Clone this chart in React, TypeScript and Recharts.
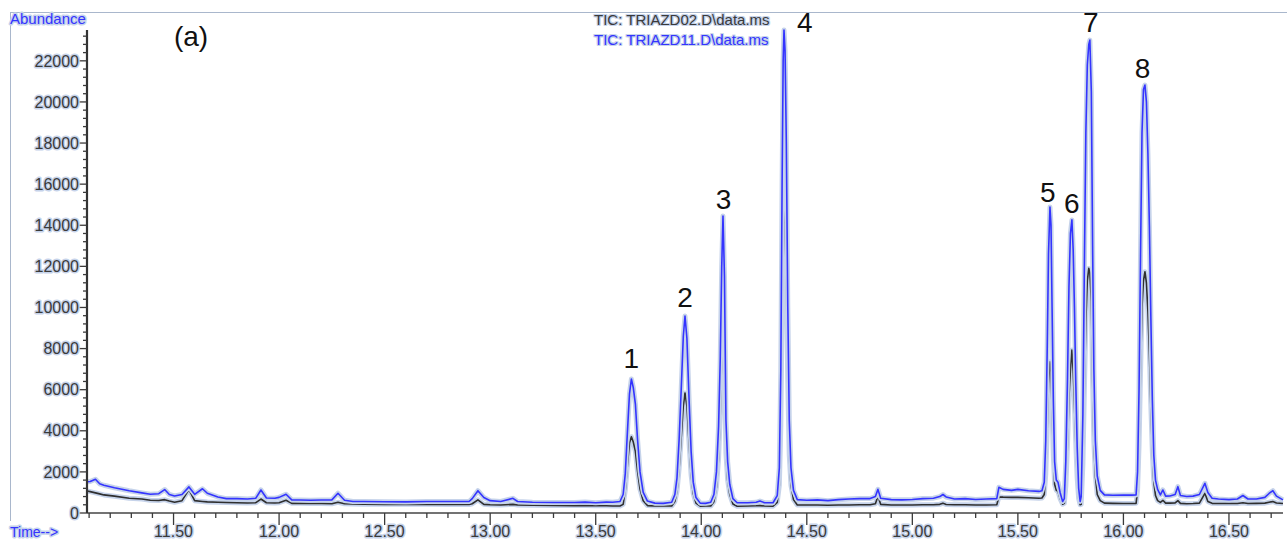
import React from 'react';
import { ComposedChart, Line, Scatter, XAxis, YAxis, Legend } from 'recharts';

// Retention time (min)
const TIME = [
  11.090, 11.105, 11.130, 11.150, 11.170, 11.220, 11.290, 11.350, 11.390, 11.430, 11.458, 11.480, 11.505, 11.540, 11.573, 11.600, 11.637, 11.660, 11.710, 11.750, 11.800, 11.850, 11.890, 11.914, 11.940, 11.980, 12.000, 12.033, 12.060, 12.100, 12.150, 12.200, 12.250, 12.279, 12.310, 12.350, 12.400, 12.500, 12.600, 12.700, 12.800, 12.900, 12.915, 12.942, 12.970, 13.000, 13.050, 13.108, 13.130, 13.200, 13.300, 13.400, 13.450, 13.500, 13.550, 13.580, 13.615,
  13.630, 13.640, 13.650, 13.660, 13.669, 13.678, 13.688, 13.698, 13.710, 13.725, 13.745, 13.780, 13.820, 13.860,
  13.875, 13.885, 13.895, 13.905, 13.915, 13.923, 13.932, 13.942, 13.952, 13.962, 13.975, 13.995, 14.020, 14.045,
  14.060, 14.072, 14.082, 14.090, 14.097, 14.103, 14.110, 14.117, 14.125, 14.135, 14.150, 14.170, 14.220, 14.260, 14.278, 14.300, 14.340,
  14.360, 14.370, 14.377, 14.383, 14.388, 14.392, 14.397, 14.403, 14.410, 14.417, 14.425, 14.437, 14.455,
  14.500, 14.550, 14.600, 14.650, 14.700, 14.750, 14.800, 14.825, 14.837, 14.850, 14.900, 14.950, 15.000, 15.050, 15.100, 15.130, 15.145, 15.160, 15.200, 15.250, 15.300, 15.350, 15.400, 15.410, 15.430, 15.470, 15.500, 15.550, 15.600, 15.614,
  15.625, 15.632, 15.639, 15.645, 15.652, 15.657, 15.662, 15.668, 15.674, 15.682, 15.690, 15.700, 15.712, 15.720, 15.727, 15.735, 15.742, 15.749, 15.756, 15.762, 15.768, 15.774, 15.781, 15.788, 15.795,
  15.800, 15.808, 15.815, 15.822, 15.829, 15.836, 15.841, 15.848, 15.854, 15.860, 15.867, 15.876, 15.890, 15.910, 15.950, 16.000, 16.040, 16.060,
  16.067, 16.074, 16.081, 16.088, 16.095, 16.102, 16.109, 16.116, 16.123, 16.130, 16.137, 16.144, 16.152, 16.162, 16.175, 16.187, 16.200, 16.220, 16.245, 16.258, 16.270, 16.300, 16.330, 16.360, 16.386, 16.400, 16.420, 16.450, 16.500, 16.540, 16.566, 16.590, 16.630, 16.670, 16.690, 16.708, 16.725, 16.756,
];

// TIC: TRIAZD02.D\data.ms (black trace)
const TRIAZD02 = [
  1070, 1040, 980, 930, 880, 820, 720, 680, 620, 610, 650, 580, 520, 600, 1140, 600, 560, 540, 520, 510, 500, 490, 500, 680, 500, 490, 500, 620, 470, 470, 460, 460, 450, 520, 450, 440, 430, 420, 420, 420, 410, 410, 450, 640, 420, 400, 390, 420, 390, 380, 370, 360, 360, 350, 350, 340, 340,
  420, 1100, 2300, 3400, 3710, 3450, 3000, 2050, 1150, 600, 360, 340, 340, 340,
  560, 1050, 2150, 3650, 5200, 5840, 5200, 3450, 1850, 950, 480, 330, 340, 340,
  550, 1250, 2650, 4800, 7700, 9300, 7400, 2900, 1600, 900, 440, 330, 340, 350, 360, 340, 330,
  520, 1350, 4300, 10000, 13900, 14740, 14100, 11300, 6300, 2800, 1350, 650, 390,
  390, 390, 380, 390, 390, 400, 400, 450, 820, 420, 390, 390, 390, 400, 400, 420, 480, 410, 400, 400, 390, 390, 400, 780, 770, 760, 760, 740, 720, 730,
  900, 1900, 4100, 6300, 7360, 6900, 5000, 2800, 1400, 1100, 1050, 700, 430, 470, 1300, 3300, 5600, 7000, 7930, 6900, 5300, 3500, 1700, 700, 400,
  420, 2400, 6000, 9300, 11300, 11900, 11680, 10300, 6500, 3500, 1800, 900, 600, 480, 470, 460, 460, 470,
  1100, 3300, 6800, 10000, 11300, 11740, 11200, 9800, 7800, 5200, 3000, 1500, 850, 600, 520, 620, 480, 480, 490, 600, 470, 450, 460, 480, 960, 560, 470, 460, 460, 460, 500, 460, 470, 480, 520, 560, 490, 460,
];

// TIC: TRIAZD11.D\data.ms (blue trace)
const TRIAZD11 = [
  1520, 1530, 1640, 1420, 1350, 1230, 1080, 980, 910, 940, 1140, 900, 830, 900, 1270, 910, 1180, 960, 780, 700, 700, 680, 720, 1120, 730, 720, 760, 910, 640, 630, 620, 630, 640, 960, 620, 560, 560, 550, 540, 560, 560, 560, 700, 1085, 750, 600, 560, 715, 560, 520, 510, 510, 530, 500, 530, 520, 560,
  900, 1900, 3900, 5800, 6520, 6100, 5300, 3600, 2000, 1000, 580, 480, 470, 520,
  900, 1700, 3550, 6000, 8600, 9585, 8500, 5600, 3000, 1500, 750, 480, 470, 520,
  900, 2000, 4200, 7500, 12000, 14450, 11500, 4500, 2500, 1400, 700, 500, 500, 520, 580, 500, 500,
  850, 2200, 7000, 16000, 22000, 23500, 22500, 18000, 10000, 4500, 2200, 1100, 650,
  620, 640, 600, 650, 680, 700, 700, 800, 1150, 720, 650, 640, 660, 700, 720, 800, 900, 780, 680, 700, 660, 680, 700, 1250, 1150, 1100, 1150, 1080, 1050, 1080,
  1500, 3500, 8000, 12600, 14890, 14000, 10000, 5500, 2500, 1600, 1500, 1000, 560, 700, 2500, 6500, 11000, 13600, 14260, 12800, 10000, 6500, 3200, 1200, 560,
  800, 4800, 12000, 18500, 21800, 22800, 23010, 20500, 13000, 7000, 3500, 1800, 1100, 880, 860, 870, 870, 880,
  2000, 6000, 12500, 18500, 20600, 20820, 20000, 17500, 14000, 9500, 5500, 2800, 1600, 1150, 880, 1120, 820, 830, 900, 1280, 850, 800, 820, 900, 1445, 1000, 720, 680, 650, 680, 850, 680, 680, 760, 950, 1085, 820, 640,
];

const SERIES_NAMES = ['TIC: TRIAZD02.D\\data.ms', 'TIC: TRIAZD11.D\\data.ms'];

// Peak annotations
const PEAK_TEXT = ['(a)', '1', '2', '3', '4', '5', '6', '7', '8'];
const PEAK_T = [11.583, 13.669, 13.923, 14.106, 14.491, 15.642, 15.755, 15.845, 16.091];
const PEAK_V = [22700, 7055, 10023, 14791, 23418, 15146, 14596, 23418, 21150];

// Axis ticks
const X_MAJOR = [11.5, 12.0, 12.5, 13.0, 13.5, 14.0, 14.5, 15.0, 15.5, 16.0, 16.5];
const X_MINOR = [
  11.1, 11.2, 11.3, 11.4, 11.5, 11.6, 11.7, 11.8, 11.9, 12.0,
  12.1, 12.2, 12.3, 12.4, 12.5, 12.6, 12.7, 12.8, 12.9, 13.0,
  13.1, 13.2, 13.3, 13.4, 13.5, 13.6, 13.7, 13.8, 13.9, 14.0,
  14.1, 14.2, 14.3, 14.4, 14.5, 14.6, 14.7, 14.8, 14.9, 15.0,
  15.1, 15.2, 15.3, 15.4, 15.5, 15.6, 15.7, 15.8, 15.9, 16.0,
  16.1, 16.2, 16.3, 16.4, 16.5, 16.6, 16.7,
];
const Y_MAJOR = [0, 2000, 4000, 6000, 8000, 10000, 12000, 14000, 16000, 18000, 20000, 22000];
const Y_MINOR = [
  0, 400, 800, 1200, 1600, 2000, 2400, 2800, 3200, 3600, 4000, 4400, 4800, 5200, 5600,
  6000, 6400, 6800, 7200, 7600, 8000, 8400, 8800, 9200, 9600, 10000, 10400, 10800, 11200, 11600,
  12000, 12400, 12800, 13200, 13600, 14000, 14400, 14800, 15200, 15600, 16000, 16400, 16800, 17200, 17600,
  18000, 18400, 18800, 19200, 19600, 20000, 20400, 20800, 21200, 21600, 22000, 22400, 22800, 23200,
];

const FONT = '"Liberation Sans", Arial, sans-serif';
const HALO = '#c6d3ea';
const BLUE = '#3434ff';
const DARK = '#2f2f2f';
const TEXT_DARK = '#3a3a3a';

const data = TIME.map((t, i) => ({ t, d02: TRIAZD02[i], d11: TRIAZD11[i] }));
const peakLabels = PEAK_TEXT.map((text, i) => ({ t: PEAK_T[i], v: PEAK_V[i], text }));

const haloText = {
  stroke: HALO,
  strokeWidth: 3,
  paintOrder: 'stroke' as const,
  strokeLinejoin: 'round' as const,
};

const isIn = (arr: number[], v: number) => arr.some((m) => Math.abs(m - v) < 1e-6);

const XTick = (props: any) => {
  const { x, y, payload } = props;
  const v = payload.value as number;
  const major = isIn(X_MAJOR, v);
  return (
    <g>
      <line x1={x} y1={y} x2={x} y2={y + (major ? 12 : 5)} stroke={TEXT_DARK} strokeWidth={1.3} />
      {major && (
        <text x={x} y={y + 23.5} textAnchor="middle" fontFamily={FONT} fontSize={16} fill={TEXT_DARK} {...haloText}>
          {v.toFixed(2)}
        </text>
      )}
    </g>
  );
};

const YTick = (props: any) => {
  const { x, y, payload } = props;
  const v = payload.value as number;
  const major = isIn(Y_MAJOR, v);
  return (
    <g>
      <line x1={x - (major ? 8 : 4)} y1={y} x2={x} y2={y} stroke={TEXT_DARK} strokeWidth={1.3} />
      {major && (
        <text x={x - 8} y={y + 5.7} textAnchor="end" fontFamily={FONT} fontSize={16} fill={TEXT_DARK} {...haloText}>
          {String(v)}
        </text>
      )}
    </g>
  );
};

const AbundanceLabel = () => (
  <text x={10} y={24} fontFamily={FONT} fontSize={15} fill={BLUE} {...haloText}>
    Abundance
  </text>
);

const TimeLabel = () => (
  <text x={10} y={537} fontFamily={FONT} fontSize={14} fill={BLUE} {...haloText}>
    {'Time-->'}
  </text>
);

const PeakLabel = (props: any) => {
  const { cx, cy, payload } = props;
  return (
    <text x={cx} y={cy} textAnchor="middle" fontFamily={FONT} fontSize={28} fill="#111">
      {payload.text}
    </text>
  );
};

const shadow = `1px 0 0 ${HALO}, -1px 0 0 ${HALO}, 0 1px 0 ${HALO}, 0 -1px 0 ${HALO}, 1px 1px 0 ${HALO}, -1px -1px 0 ${HALO}, 1px -1px 0 ${HALO}, -1px 1px 0 ${HALO}`;

const LegendContent = () => (
  <div style={{ fontFamily: FONT, fontSize: 15, lineHeight: '20px', whiteSpace: 'nowrap' }}>
    <div style={{ color: TEXT_DARK, textShadow: shadow }}>{SERIES_NAMES[0]}</div>
    <div style={{ color: BLUE, textShadow: shadow }}>{SERIES_NAMES[1]}</div>
  </div>
);

export default function App() {
  return (
    <div style={{ position: 'absolute', left: 0, top: 0, width: 1287, height: 539, background: '#fff' }}>
      <div
        style={{
          position: 'absolute',
          left: 10,
          top: 12,
          width: 1277,
          height: 508,
          borderTop: '1px solid #a9b7cc',
          borderLeft: '1px solid #a9b7cc',
        }}
      />
      <div style={{ position: 'absolute', left: 0, top: 0 }}>
        <ComposedChart width={1287} height={539} data={data} margin={{ top: 30, right: 4, bottom: 0, left: 0 }}>
          <XAxis
            type="number"
            dataKey="t"
            domain={[11.09, 16.756]}
            ticks={X_MINOR}
            interval={0}
            tick={<XTick />}
            tickLine={false}
            tickSize={0}
            tickMargin={0}
            height={26}
            axisLine={{ stroke: '#444', strokeWidth: 1.6 }}
            label={TimeLabel}
          />
          <YAxis
            type="number"
            domain={[0, 23500]}
            ticks={Y_MINOR}
            interval={0}
            tick={<YTick />}
            tickLine={false}
            tickSize={0}
            tickMargin={0}
            width={87}
            axisLine={{ stroke: '#333', strokeWidth: 2.2 }}
            label={AbundanceLabel}
          />
          <Legend
            layout="horizontal"
            verticalAlign="middle"
            align="center"
            content={LegendContent}
            wrapperStyle={{ position: 'absolute', top: 10, left: 594, width: 220, height: 44 }}
          />
          <Line type="linear" dataKey="d02" stroke={HALO} strokeWidth={5} dot={false} activeDot={false} isAnimationActive={false} legendType="none" strokeLinejoin="round" />
          <Line type="linear" dataKey="d02" stroke={DARK} strokeWidth={1.6} dot={false} activeDot={false} isAnimationActive={false} name={SERIES_NAMES[0]} strokeLinejoin="round" />
          <Line type="linear" dataKey="d11" stroke={HALO} strokeWidth={5} dot={false} activeDot={false} isAnimationActive={false} legendType="none" strokeLinejoin="round" />
          <Line type="linear" dataKey="d11" stroke={BLUE} strokeWidth={1.6} dot={false} activeDot={false} isAnimationActive={false} name={SERIES_NAMES[1]} strokeLinejoin="round" />
          <Scatter data={peakLabels} dataKey="v" shape={<PeakLabel />} isAnimationActive={false} legendType="none" />
        </ComposedChart>
      </div>
    </div>
  );
}
